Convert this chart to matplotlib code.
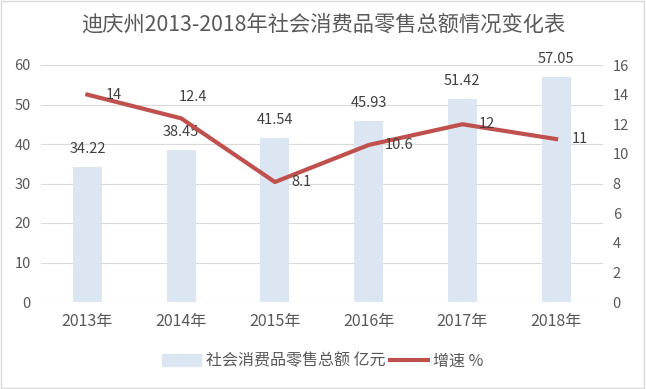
import matplotlib.pyplot as plt
import matplotlib.patches as mpatches
from matplotlib.lines import Line2D
import numpy as np

plt.rcParams['font.family'] = ['Noto Sans CJK SC', 'DejaVu Sans']

years = ['2013年', '2014年', '2015年', '2016年', '2017年', '2018年']
sales = [34.22, 38.45, 41.54, 45.93, 51.42, 57.05]
growth = [14, 12.4, 8.1, 10.6, 12, 11]
growth_labels = ['14', '12.4', '8.1', '10.6', '12', '11']

bar_color = '#DCE6F2'
line_color = '#C0504D'
text_color = '#595959'
label_color = '#404040'
fs = 10.5

fig = plt.figure(figsize=(6.46, 3.89), dpi=100)
ax = fig.add_axes([40.5 / 646, 1 - 302 / 389, 562.5 / 646, 237 / 389])
x = np.arange(len(years))

ax.bar(x, sales, width=0.31, color=bar_color, zorder=2)
ax.set_ylim(0, 60)
ax.set_yticks(range(0, 61, 10))
ax.set_xlim(-0.5, len(years) - 0.5)
ax.set_xticks(x)
ax.set_xticklabels(years)
ax.grid(axis='y', color='#D9D9D9', linewidth=0.8, zorder=0)
for s in ax.spines.values():
    s.set_visible(False)
ax.tick_params(length=0, colors=text_color, labelsize=fs)
ax.tick_params(axis='x', pad=8, labelsize=11.5)
ax.tick_params(axis='y', pad=7)
for xi, v in zip(x, sales):
    ax.annotate(f'{v:.2f}', (xi, v), xytext=(0, 13), textcoords='offset points',
                ha='center', va='center', fontsize=fs, color=label_color)

ax2 = ax.twinx()
ax2.plot(x, growth, color=line_color, linewidth=3, zorder=3)
ax2.set_ylim(0, 16)
ax2.set_yticks(range(0, 17, 2))
for s in ax2.spines.values():
    s.set_visible(False)
ax2.tick_params(length=0, colors=text_color, labelsize=fs, pad=7)
offsets = [(13, 0), (-1.5, 15), (12, 0), (11.5, 0), (12, 0), (11.5, 0)]
for xi, v, lab, off in zip(x, growth, growth_labels, offsets):
    ax2.annotate(lab, (xi, v), xytext=off, textcoords='offset points',
                 ha='left', va='center', fontsize=fs, color=label_color, zorder=4)

fig.suptitle('迪庆州2013-2018年社会消费品零售总额情况变化表', y=1 - 25 / 389,
             va='center', fontsize=15.3, color=text_color)

handles = [mpatches.Patch(color=bar_color), Line2D([0], [0], color=line_color, linewidth=3)]
fig.legend(handles, ['社会消费品零售总额 亿元', '增速 %'], loc='center',
           bbox_to_anchor=(0.5, 1 - 361 / 389), ncol=2, frameon=False,
           fontsize=11.5, labelcolor=text_color, handlelength=2.4,
           columnspacing=0.3, handletextpad=0.3)

fig.patches.append(mpatches.Rectangle((0.002, 0.003), 0.995, 0.994, transform=fig.transFigure,
                                      fill=False, edgecolor='#D9D9D9', linewidth=1))

fig.savefig('out.png', dpi=100)
